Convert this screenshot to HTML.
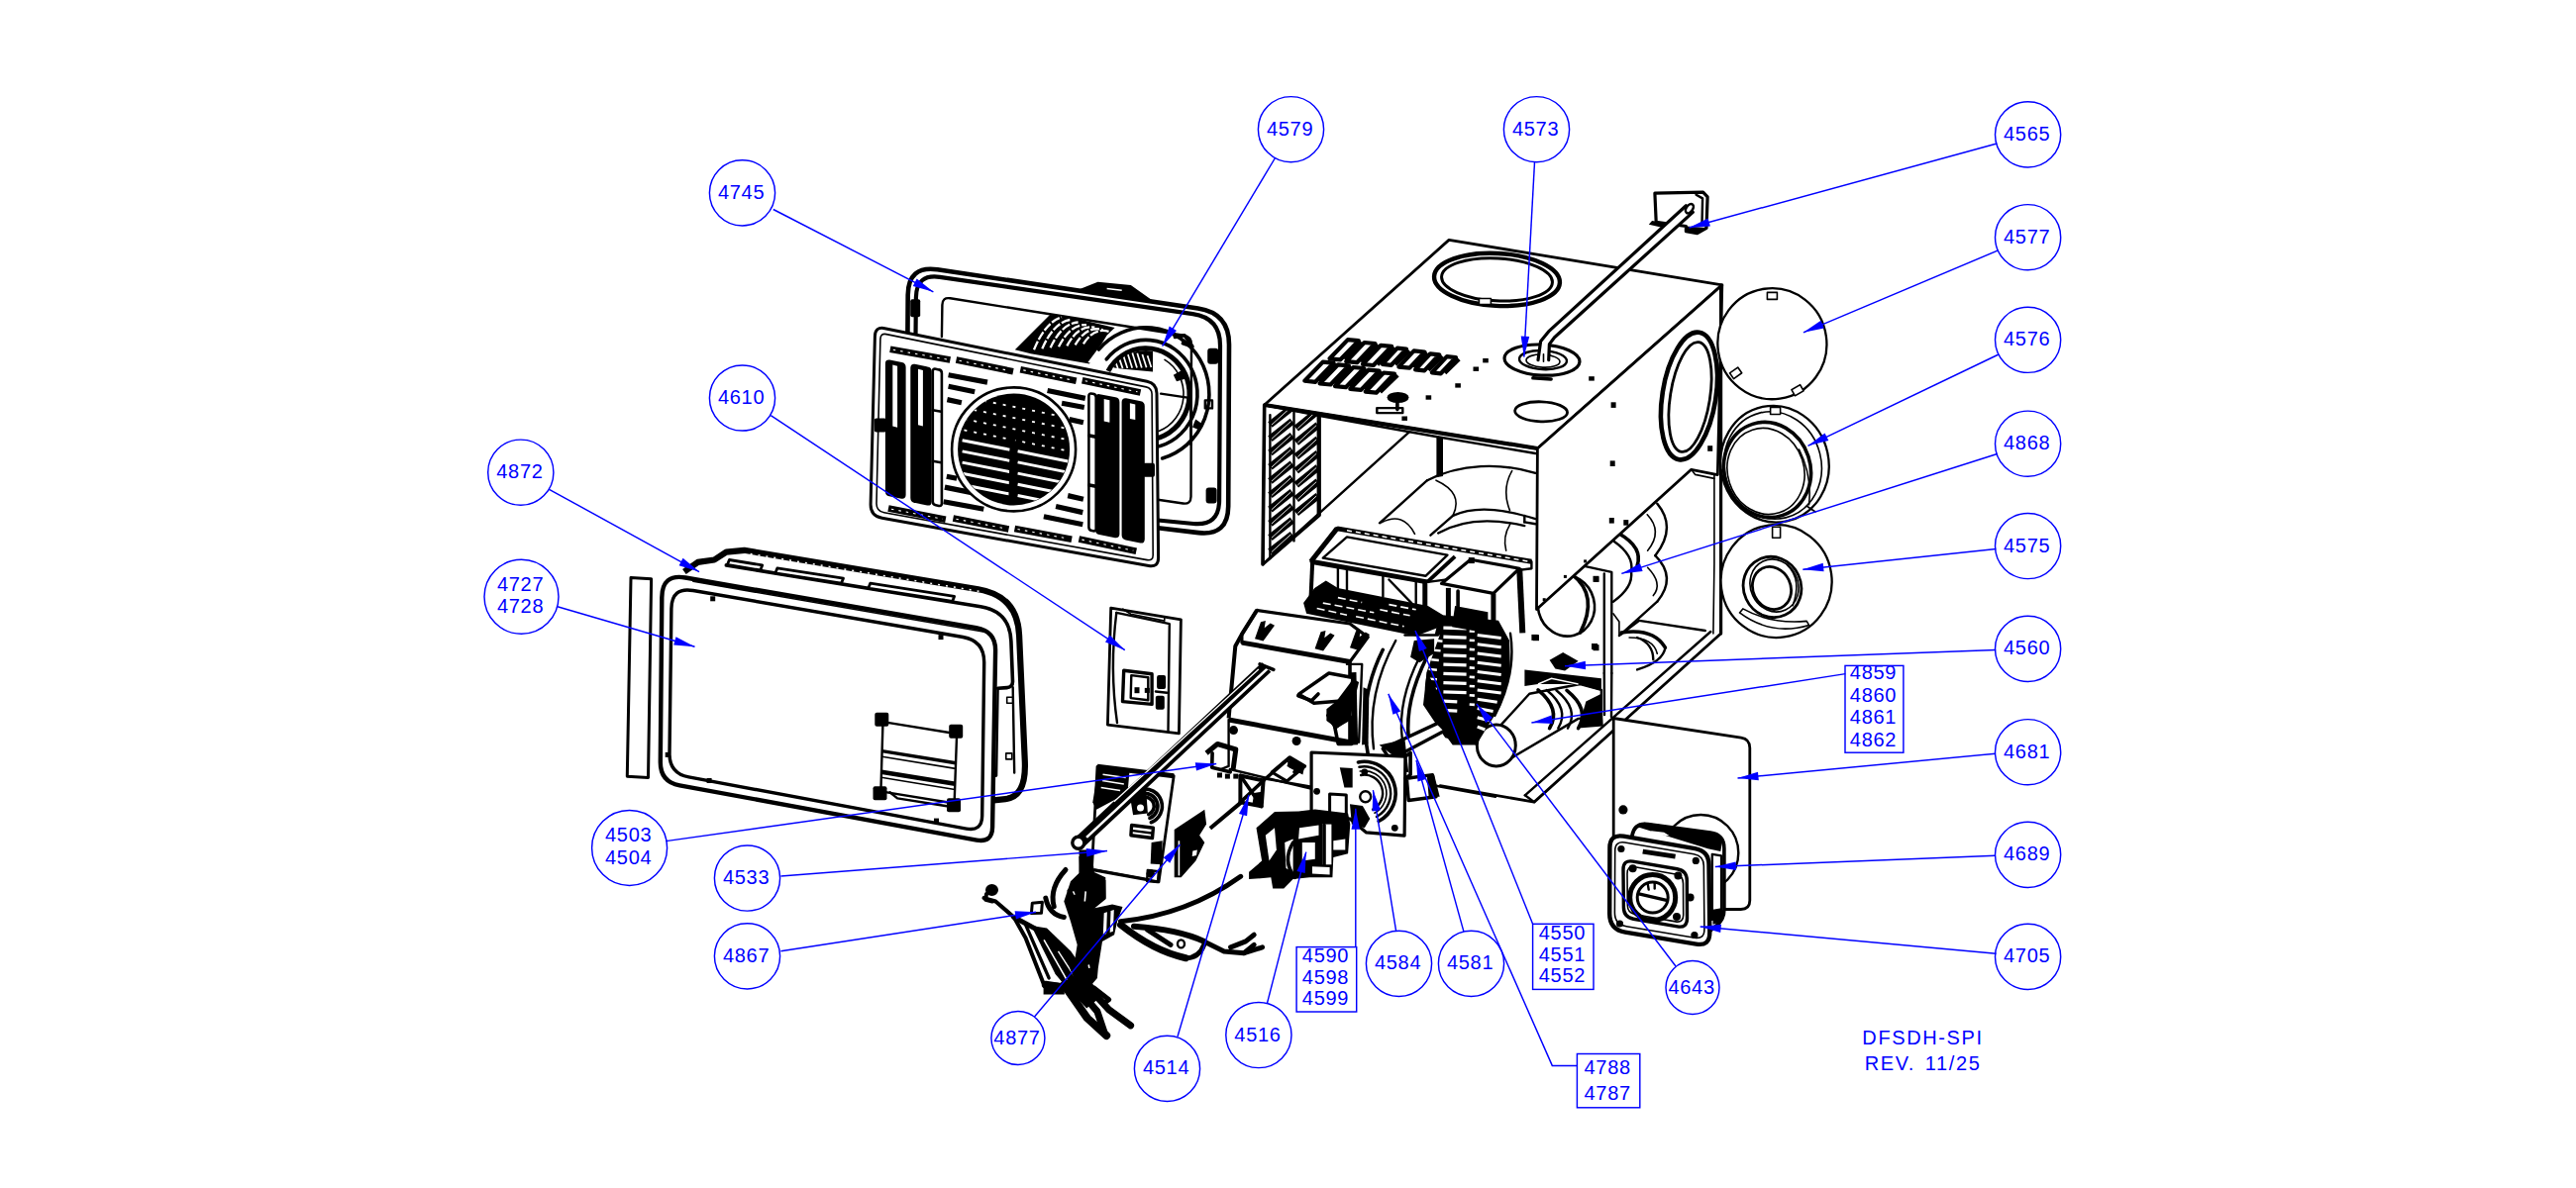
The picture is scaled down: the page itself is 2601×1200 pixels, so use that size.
<!DOCTYPE html><html><head><meta charset="utf-8"><title>DFSDH-SPI Parts Diagram</title>
<style>html,body{margin:0;padding:0;background:#fff}svg{display:block}.t{font-family:"Liberation Sans",Arial,sans-serif;font-size:20px;fill:#0000ff;letter-spacing:0.7px;text-anchor:middle}.k{fill:none;stroke:#000;stroke-width:2.4;stroke-linejoin:round;stroke-linecap:round}.k1{fill:none;stroke:#000;stroke-width:1.6;stroke-linejoin:round;stroke-linecap:round}.k3{fill:none;stroke:#000;stroke-width:3.6;stroke-linejoin:round;stroke-linecap:round}.kw{fill:#fff;stroke:#000;stroke-width:2.4;stroke-linejoin:round;stroke-linecap:round}.kw1{fill:#fff;stroke:#000;stroke-width:1.6;stroke-linejoin:round;stroke-linecap:round}.kf{fill:#000;stroke:none}.b{fill:none;stroke:#0000ff;stroke-width:1.45}</style></head><body>
<svg width="2601" height="1200" viewBox="0 0 2601 1200">
<rect width="2601" height="1200" fill="#fff"/>
<g id="drawing">
<path class="" d="M916.4,340.0 Q916.4,340.0 916.4,340.0 L916.7,297.9 Q917.0,267.9 946.6,272.3 L1209.6,311.6 Q1241.2,316.4 1241.0,348.4 L1240.2,511.5 Q1240.0,541.5 1210.2,538.1 L1169.1,533.3 Q1169.1,533.3 1169.1,533.3 " fill="none" stroke="#000" stroke-width="4.6"/>
<path class="" d="M924.5,340.0 Q924.5,340.0 924.5,340.0 L924.9,300.4 Q925.2,276.4 948.9,279.8 L1204.4,317.2 Q1232.1,321.2 1232.0,349.2 L1231.1,505.5 Q1230.9,531.5 1205.0,529.0 L1169.1,525.5 Q1169.1,525.5 1169.1,525.5 " fill="none" stroke="#000" stroke-width="4.2"/>
<path class="k" d="M950.9,340.0 Q950.9,340.0 950.9,340.0 L951.4,308.0 Q951.5,300.0 959.4,301.3 L1195.1,338.7 Q1203.0,340.0 1203.0,348.0 L1202.5,501.7 Q1202.4,509.7 1194.5,508.5 L1169.1,504.8 Q1169.1,504.8 1169.1,504.8 " />
<polygon class="kf" points="1090.3,292.1 1108.5,284.8 1141.8,287.9 1166.1,305.2 1132.7,299.1" />
<line class="" x1="1117.6" y1="291.5" x2="1132.7" y2="293.3" stroke="#fff" stroke-width="1.6"/>
<polygon class="kf" points="1024.8,353.2 1060.0,318.0 1076.0,319.3 1125.6,331.1 1117.6,338.8 1100.0,367.6 1040.8,357.2" />
<path class="" d="M1044.0,353.2 Q1055.6,325.2 1072.0,320.4" fill="none" stroke="#fff" stroke-width="2.3" stroke-dasharray="9 2"/>
<path class="" d="M1052.3,352.2 Q1063.9,325.8 1080.3,323.0" fill="none" stroke="#fff" stroke-width="2.3" stroke-dasharray="9 2"/>
<path class="" d="M1060.6,351.3 Q1072.2,326.5 1088.6,325.5" fill="none" stroke="#fff" stroke-width="2.3" stroke-dasharray="9 2"/>
<path class="" d="M1069.0,350.3 Q1080.6,327.1 1097.0,328.1" fill="none" stroke="#fff" stroke-width="2.3" stroke-dasharray="9 2"/>
<path class="" d="M1077.3,349.4 Q1088.9,327.8 1105.3,330.6" fill="none" stroke="#fff" stroke-width="2.3" stroke-dasharray="9 2"/>
<path class="" d="M1085.6,348.4 Q1097.2,328.4 1113.6,333.2" fill="none" stroke="#fff" stroke-width="2.3" stroke-dasharray="9 2"/>
<path class="" d="M1093.9,347.4 Q1105.5,329.0 1121.9,335.8" fill="none" stroke="#fff" stroke-width="2.3" stroke-dasharray="9 2"/>
<polygon class="" points="1098.4,366.0 1112.8,346.8 1116.0,350.0 1104.8,367.6" fill="#fff"/>
<path class="k3" d="M1109.4,353.0 A64.0,67.2 0 1 1 1173.6,462.9"/>
<path class="k3" d="M1117.2,362.9 A52.0,54.6 0 1 1 1166.0,451.8"/>
<path fill="none" stroke="#000" stroke-width="5" d="M1118.9,374.9 A44.0,46.2 0 1 1 1160.8,444.0"/>
<path class="k1" d="M1176.0,363.4 A38.0,39.9 0 0 1 1170.0,435.5"/>
<clipPath id="cc"><ellipse cx="1157.0" cy="398.0" rx="42" ry="44"/></clipPath><g clip-path="url(#cc)">
<polygon class="kf" points="1109.6,369.2 1122.4,353.2 1148.0,345.2 1164.0,353.2 1164.0,375.6 1132.0,372.4" />
<line class="" x1="1117.6" y1="356.4" x2="1124.0" y2="372.4" stroke="#fff" stroke-width="1.7"/>
<line class="" x1="1122.7" y1="355.7" x2="1128.8" y2="372.2" stroke="#fff" stroke-width="1.7"/>
<line class="" x1="1127.8" y1="355.4" x2="1133.6" y2="372.1" stroke="#fff" stroke-width="1.7"/>
<line class="" x1="1133.0" y1="355.3" x2="1138.4" y2="371.9" stroke="#fff" stroke-width="1.7"/>
<line class="" x1="1138.1" y1="355.5" x2="1143.2" y2="371.8" stroke="#fff" stroke-width="1.7"/>
<line class="" x1="1143.2" y1="356.0" x2="1148.0" y2="371.6" stroke="#fff" stroke-width="1.7"/>
<line class="" x1="1148.3" y1="356.8" x2="1152.8" y2="371.4" stroke="#fff" stroke-width="1.7"/>
<line class="" x1="1153.4" y1="357.9" x2="1157.6" y2="371.3" stroke="#fff" stroke-width="1.7"/>
<line class="" x1="1158.6" y1="359.2" x2="1162.4" y2="371.1" stroke="#fff" stroke-width="1.7"/>
</g>
<polyline class="k3" points="1186.4,340.4 1196.0,338.8 1204.0,350.0 1194.4,346.8" />
<polygon class="kf" points="1184.8,378.8 1196.0,372.4 1199.2,382.0 1188.0,385.2" />
<polygon class="k" points="1216.8,404.4 1224.0,404.4 1224.0,412.4 1216.8,412.4" />
<polygon class="kf" points="1207.2,423.6 1214.4,428.4 1212.0,434.8 1204.0,431.6" />
<rect class="kf" x="1219.2" y="351.7" width="11" height="16" rx="3"/>
<rect class="kf" x="1217.6" y="492.6" width="11" height="16" rx="3"/>
<rect class="kf" x="919.2" y="302.2" width="10" height="18" rx="2"/>
<line class="k" x1="1172.1" y1="397.6" x2="1202.4" y2="402.1" />
<line class="k" x1="1202.4" y1="402.1" x2="1202.4" y2="449.1" />
<path class="kw" d="M883.4,339.7 Q883.6,329.7 893.4,331.7 L1158.1,385.3 Q1167.9,387.3 1168.0,397.3 L1169.6,563.3 Q1169.7,573.3 1159.9,571.6 L890.6,523.3 Q878.8,521.2 879.1,509.2 Z"  style="stroke-width:3"/>
<path class="k1" d="M888.9,342.4 Q889.1,336.4 895.0,337.6 L1157.2,390.9 Q1163.0,392.1 1163.1,398.1 L1164.2,560.7 Q1164.2,566.7 1158.3,565.6 L892.7,517.8 Q884.8,516.4 885.0,508.4 Z" />
<rect class="kf" x="882.8" y="422.4" width="12" height="14" rx="2"/>
<rect class="kf" x="1154.0" y="467.8" width="12" height="14" rx="2"/>
<line class="" x1="898.8" y1="352.7" x2="959.4" y2="363.6" stroke="#000" stroke-width="6.6"/>
<line class="" x1="901.8" y1="353.3" x2="956.4" y2="363.0" stroke="#fff" stroke-width="1.1" stroke-dasharray="2.5 5"/>
<line class="" x1="965.5" y1="363.6" x2="1023.0" y2="375.2" stroke="#000" stroke-width="6.6"/>
<line class="" x1="968.5" y1="364.2" x2="1020.0" y2="374.6" stroke="#fff" stroke-width="1.1" stroke-dasharray="2.5 5"/>
<line class="" x1="1030.3" y1="373.3" x2="1086.7" y2="384.8" stroke="#000" stroke-width="6.6"/>
<line class="" x1="1033.3" y1="373.9" x2="1083.7" y2="384.2" stroke="#fff" stroke-width="1.1" stroke-dasharray="2.5 5"/>
<line class="" x1="1092.7" y1="384.2" x2="1151.5" y2="396.4" stroke="#000" stroke-width="6.6"/>
<line class="" x1="1095.7" y1="384.8" x2="1148.5" y2="395.8" stroke="#fff" stroke-width="1.1" stroke-dasharray="2.5 5"/>
<line class="" x1="897.0" y1="513.6" x2="954.8" y2="524.8" stroke="#000" stroke-width="6.6"/>
<line class="" x1="900.0" y1="514.2" x2="951.8" y2="524.2" stroke="#fff" stroke-width="1.1" stroke-dasharray="2.5 5"/>
<line class="" x1="962.4" y1="523.6" x2="1018.5" y2="534.5" stroke="#000" stroke-width="6.6"/>
<line class="" x1="965.4" y1="524.2" x2="1015.5" y2="533.9" stroke="#fff" stroke-width="1.1" stroke-dasharray="2.5 5"/>
<line class="" x1="1024.5" y1="533.9" x2="1082.1" y2="544.8" stroke="#000" stroke-width="6.6"/>
<line class="" x1="1027.5" y1="534.5" x2="1079.1" y2="544.2" stroke="#fff" stroke-width="1.1" stroke-dasharray="2.5 5"/>
<line class="" x1="1089.4" y1="544.5" x2="1147.3" y2="556.7" stroke="#000" stroke-width="6.6"/>
<line class="" x1="1092.4" y1="545.1" x2="1144.3" y2="556.1" stroke="#fff" stroke-width="1.1" stroke-dasharray="2.5 5"/>
<line class="" x1="957.6" y1="378.8" x2="997.0" y2="386.1" stroke="#000" stroke-width="5.2"/>
<line class="" x1="957.6" y1="390.3" x2="984.2" y2="395.8" stroke="#000" stroke-width="5.2"/>
<line class="" x1="956.4" y1="403.6" x2="970.9" y2="406.7" stroke="#000" stroke-width="5.2"/>
<line class="" x1="1057.6" y1="394.5" x2="1095.8" y2="402.4" stroke="#000" stroke-width="5.2"/>
<line class="" x1="1072.1" y1="407.3" x2="1094.8" y2="411.5" stroke="#000" stroke-width="5.2"/>
<line class="" x1="1079.7" y1="423.6" x2="1093.9" y2="426.7" stroke="#000" stroke-width="5.2"/>
<line class="" x1="955.8" y1="481.2" x2="966.1" y2="483.3" stroke="#000" stroke-width="5.2"/>
<line class="" x1="953.9" y1="492.1" x2="981.2" y2="497.6" stroke="#000" stroke-width="5.2"/>
<line class="" x1="952.7" y1="506.7" x2="993.3" y2="514.2" stroke="#000" stroke-width="5.2"/>
<line class="" x1="1078.2" y1="500.6" x2="1093.9" y2="504.2" stroke="#000" stroke-width="5.2"/>
<line class="" x1="1066.1" y1="511.5" x2="1093.3" y2="517.6" stroke="#000" stroke-width="5.2"/>
<line class="" x1="1053.9" y1="521.8" x2="1093.3" y2="529.7" stroke="#000" stroke-width="5.2"/>
<path class="" d="M895.2,367.2 Q895.2,364.2 898.1,364.8 L910.4,367.3 Q913.3,367.9 913.3,370.9 L913.3,500.0 Q913.3,503.0 910.4,502.4 L898.1,500.0 Q895.2,499.4 895.2,496.4 Z" fill="#000" stroke="#000" stroke-width="2.6"/>
<polygon class="" points="901.3,368.5 906.1,369.7 906.1,431.8 901.3,430.6" fill="#fff"/>
<path class="" d="M920.6,371.5 Q920.6,368.5 923.5,369.1 L936.5,371.7 Q939.4,372.2 939.4,375.2 L939.4,506.8 Q939.4,509.8 936.5,509.2 L923.5,506.6 Q920.6,506.1 920.6,503.1 Z" fill="#000" stroke="#000" stroke-width="2.6"/>
<polygon class="" points="927.0,372.7 931.9,373.9 931.9,430.4 927.0,429.2" fill="#fff"/>
<path class="" d="M941.8,375.1 Q941.8,372.1 944.8,372.7 L948.0,373.4 Q950.9,373.9 950.9,376.9 L950.9,508.5 Q950.9,511.5 948.0,510.9 L944.8,510.3 Q941.8,509.7 941.8,506.7 Z" fill="#fff" stroke="#000" stroke-width="2.6"/>
<path class="" d="M1099.4,400.0 Q1099.4,397.0 1102.3,397.6 L1103.7,397.8 Q1106.7,398.4 1106.7,401.4 L1106.7,533.9 Q1106.7,536.9 1103.7,536.3 L1102.3,536.0 Q1099.4,535.5 1099.4,532.5 Z" fill="#fff" stroke="#000" stroke-width="2.6"/>
<path class="" d="M1107.3,401.8 Q1107.3,398.8 1110.2,399.4 L1126.1,402.6 Q1129.1,403.2 1129.1,406.2 L1129.1,539.5 Q1129.1,542.5 1126.1,542.0 L1110.2,538.8 Q1107.3,538.2 1107.3,535.2 Z" fill="#000" stroke="#000" stroke-width="2.6"/>
<polygon class="" points="1114.7,403.0 1120.4,404.2 1120.4,426.7 1114.7,425.5" fill="#fff"/>
<path class="" d="M1133.9,406.0 Q1133.9,403.0 1136.9,403.6 L1151.6,406.6 Q1154.5,407.2 1154.5,410.2 L1154.5,544.8 Q1154.5,547.8 1151.6,547.2 L1136.9,544.2 Q1133.9,543.6 1133.9,540.6 Z" fill="#000" stroke="#000" stroke-width="2.6"/>
<polygon class="" points="1140.9,407.3 1146.3,408.5 1146.3,424.1 1140.9,422.9" fill="#fff"/>
<line class="k" x1="941.8" y1="414.2" x2="950.3" y2="415.8" />
<line class="k" x1="941.8" y1="465.8" x2="950.3" y2="467.3" />
<line class="k3" x1="1100.0" y1="440.0" x2="1107.9" y2="441.5" />
<line class="k3" x1="1100.0" y1="490.0" x2="1107.9" y2="491.5" />
<circle cx="1023.6" cy="453.9" r="62.5" class="kw" style="stroke-width:2.6"/>
<clipPath id="lc"><circle cx="1023.6" cy="453.9" r="56"/></clipPath>
<circle cx="1023.6" cy="453.9" r="56.5" fill="#000"/>
<g clip-path="url(#lc)">
<line class="" x1="963.6" y1="398.9" x2="1083.6" y2="422.9" stroke="#fff" stroke-width="1.8" stroke-dasharray="3 7"/>
<line class="" x1="963.6" y1="410.1" x2="1083.6" y2="434.1" stroke="#fff" stroke-width="1.8" stroke-dasharray="3 7"/>
<line class="" x1="963.6" y1="421.3" x2="1083.6" y2="445.3" stroke="#fff" stroke-width="1.8" stroke-dasharray="3 7"/>
<line class="" x1="963.6" y1="432.5" x2="1083.6" y2="456.5" stroke="#fff" stroke-width="1.8" stroke-dasharray="3 7"/>
<line class="" x1="971.6" y1="444.7" x2="1019.6" y2="454.2" stroke="#fff" stroke-width="3.0"/>
<line class="" x1="1027.6" y1="455.7" x2="1079.6" y2="466.2" stroke="#fff" stroke-width="3.0"/>
<line class="" x1="971.6" y1="455.9" x2="1019.6" y2="465.4" stroke="#fff" stroke-width="3.0"/>
<line class="" x1="1027.6" y1="466.9" x2="1079.6" y2="477.4" stroke="#fff" stroke-width="3.0"/>
<line class="" x1="971.6" y1="467.1" x2="1019.6" y2="476.6" stroke="#fff" stroke-width="3.0"/>
<line class="" x1="1027.6" y1="478.1" x2="1079.6" y2="488.6" stroke="#fff" stroke-width="3.0"/>
<line class="" x1="971.6" y1="478.3" x2="1019.6" y2="487.8" stroke="#fff" stroke-width="3.0"/>
<line class="" x1="1027.6" y1="489.3" x2="1079.6" y2="499.8" stroke="#fff" stroke-width="3.0"/>
<line class="" x1="971.6" y1="489.5" x2="1019.6" y2="499.0" stroke="#fff" stroke-width="3.0"/>
<line class="" x1="1027.6" y1="500.5" x2="1079.6" y2="511.0" stroke="#fff" stroke-width="3.0"/>
<line class="" x1="1022.6" y1="439.9" x2="1020.6" y2="511.9" stroke="#000" stroke-width="5"/>
</g>
<polygon class="k" points="637.0,583.6 657.6,584.8 654.5,785.5 633.3,784.2" style="stroke-width:3"/>
<path class="" d="M690.9,577.6 L704.5,567.9 L721.2,565.5 L733.3,557.6 L751.5,555.8 L751.5,555.8 Q751.5,555.8 751.5,555.8 L987.8,595.2 Q1027.3,601.8 1029.1,641.8 L1034.8,768.9 Q1036.4,804.8 1015.2,807.1 L993.9,809.4 Q993.9,809.4 993.9,809.4 " fill="none" stroke="#000" stroke-width="6.2" stroke-linejoin="round"/>
<path class="k3" d="M733.3,570.9 Q733.3,570.9 733.3,570.9 L990.1,612.8 Q1019.7,617.6 1020.9,647.6 L1022.5,688.2 Q1022.7,694.2 1016.7,694.6 L1007.6,695.2 Q1007.6,695.2 1007.6,695.2 " />
<polyline class="k" points="1007.6,695.2 1006.1,783.6 993.9,786.7" />
<polyline class="k" points="1022.7,694.2 1024.2,780.6" />
<line class="" x1="757.6" y1="559.4" x2="990.9" y2="597.6" stroke="#fff" stroke-width="1.5" stroke-dasharray="2 6"/>
<polygon class="kw" points="736.4,565.5 769.7,570.9 767.7,575.9 734.4,570.5" style="stroke-width:2.8"/>
<polygon class="kw" points="784.8,573.9 851.5,584.2 849.5,589.2 782.8,578.9" style="stroke-width:2.8"/>
<polygon class="kw" points="878.8,589.1 963.6,602.4 961.6,607.4 876.8,594.1" style="stroke-width:2.8"/>
<rect class="k1" x="1016.7" y="704.3" width="6" height="6"/>
<rect class="k1" x="1015.8" y="760.9" width="6" height="6"/>
<path class="kw" d="M668.3,603.4 Q668.5,579.4 692.1,583.5 L985.7,634.2 Q1005.5,637.6 1005.1,657.6 L1002.1,835.5 Q1001.8,851.5 986.1,848.6 L686.3,793.3 Q666.7,789.7 666.8,769.7 Z" style="stroke-width:4.4"/>
<path class="k" d="M677.9,614.7 Q678.2,592.7 699.9,596.5 L972.3,643.5 Q993.9,647.3 993.7,669.3 L991.7,824.0 Q991.5,840.0 975.8,837.1 L695.4,784.9 Q675.8,781.2 676.0,761.2 Z" style="stroke-width:3.4"/>
<line class="k1" x1="700.0" y1="587.3" x2="993.9" y2="638.2" />
<rect class="kf" x="717.2" y="602.3" width="5" height="5"/>
<rect class="kf" x="947.5" y="641.1" width="5" height="5"/>
<rect class="kf" x="713.6" y="786.0" width="5" height="5"/>
<rect class="kf" x="943.0" y="826.6" width="5" height="5"/>
<rect class="kf" x="671.7" y="759.9" width="5" height="5"/>
<polygon class="k" points="891.5,729.1 966.1,741.2 963.6,811.5 889.4,799.4" />
<rect class="kf" x="883.3" y="719.7" width="14" height="14" rx="2"/>
<rect class="kf" x="958.2" y="731.8" width="14" height="14" rx="2"/>
<rect class="kf" x="956.0" y="806.3" width="14" height="14" rx="2"/>
<rect class="kf" x="881.5" y="794.2" width="14" height="14" rx="2"/>
<line class="" x1="890.6" y1="758.6" x2="965.0" y2="770.7" stroke="#000" stroke-width="3.4"/>
<line class="" x1="890.5" y1="764.2" x2="964.8" y2="776.4" stroke="#000" stroke-width="1.6"/>
<line class="" x1="890.0" y1="779.7" x2="964.3" y2="791.8" stroke="#000" stroke-width="4.6"/>
<line class="" x1="889.8" y1="785.3" x2="964.1" y2="797.5" stroke="#000" stroke-width="1.6"/>
<polyline class="k" points="898.5,800.3 906.1,806.4 957.6,814.5" />
<line class="k" x1="1422.6" y1="436.7" x2="1275.2" y2="569.7" />
<polygon class="k" points="1276.7,409.0 1332.7,420.0 1332.7,520.6 1275.2,570.3" />
<polyline class="k3" points="1276.7,409.0 1275.0,570.0" />
<line class="" x1="1282.4" y1="429.0" x2="1304.8" y2="411.3" stroke="#000" stroke-width="7.2"/>
<line class="" x1="1283.9" y1="429.2" x2="1303.3" y2="411.5" stroke="#fff" stroke-width="0.9"/>
<line class="" x1="1282.4" y1="443.2" x2="1304.8" y2="425.5" stroke="#000" stroke-width="7.2"/>
<line class="" x1="1283.9" y1="443.4" x2="1303.3" y2="425.7" stroke="#fff" stroke-width="0.9"/>
<line class="" x1="1282.4" y1="457.5" x2="1304.8" y2="439.8" stroke="#000" stroke-width="7.2"/>
<line class="" x1="1283.9" y1="457.7" x2="1303.3" y2="440.0" stroke="#fff" stroke-width="0.9"/>
<line class="" x1="1282.4" y1="471.8" x2="1304.8" y2="454.1" stroke="#000" stroke-width="7.2"/>
<line class="" x1="1283.9" y1="472.0" x2="1303.3" y2="454.3" stroke="#fff" stroke-width="0.9"/>
<line class="" x1="1282.4" y1="486.0" x2="1304.8" y2="468.3" stroke="#000" stroke-width="7.2"/>
<line class="" x1="1283.9" y1="486.2" x2="1303.3" y2="468.5" stroke="#fff" stroke-width="0.9"/>
<line class="" x1="1282.4" y1="500.3" x2="1304.8" y2="482.6" stroke="#000" stroke-width="7.2"/>
<line class="" x1="1283.9" y1="500.5" x2="1303.3" y2="482.8" stroke="#fff" stroke-width="0.9"/>
<line class="" x1="1282.4" y1="514.6" x2="1304.8" y2="496.9" stroke="#000" stroke-width="7.2"/>
<line class="" x1="1283.9" y1="514.8" x2="1303.3" y2="497.1" stroke="#fff" stroke-width="0.9"/>
<line class="" x1="1282.4" y1="528.8" x2="1304.8" y2="511.2" stroke="#000" stroke-width="7.2"/>
<line class="" x1="1283.9" y1="529.0" x2="1303.3" y2="511.4" stroke="#fff" stroke-width="0.9"/>
<line class="" x1="1282.4" y1="543.1" x2="1304.8" y2="525.4" stroke="#000" stroke-width="7.2"/>
<line class="" x1="1283.9" y1="543.3" x2="1303.3" y2="525.6" stroke="#fff" stroke-width="0.9"/>
<line class="" x1="1282.4" y1="557.4" x2="1304.8" y2="539.7" stroke="#000" stroke-width="7.2"/>
<line class="" x1="1283.9" y1="557.6" x2="1303.3" y2="539.9" stroke="#fff" stroke-width="0.9"/>
<line class="" x1="1308.8" y1="432.7" x2="1330.8" y2="415.0" stroke="#000" stroke-width="7.2"/>
<line class="" x1="1310.3" y1="432.9" x2="1329.3" y2="415.2" stroke="#fff" stroke-width="0.9"/>
<line class="" x1="1308.8" y1="447.0" x2="1330.8" y2="429.3" stroke="#000" stroke-width="7.2"/>
<line class="" x1="1310.3" y1="447.2" x2="1329.3" y2="429.5" stroke="#fff" stroke-width="0.9"/>
<line class="" x1="1308.8" y1="461.3" x2="1330.8" y2="443.6" stroke="#000" stroke-width="7.2"/>
<line class="" x1="1310.3" y1="461.5" x2="1329.3" y2="443.8" stroke="#fff" stroke-width="0.9"/>
<line class="" x1="1308.8" y1="475.5" x2="1330.8" y2="457.9" stroke="#000" stroke-width="7.2"/>
<line class="" x1="1310.3" y1="475.7" x2="1329.3" y2="458.1" stroke="#fff" stroke-width="0.9"/>
<line class="" x1="1308.8" y1="489.8" x2="1330.8" y2="472.1" stroke="#000" stroke-width="7.2"/>
<line class="" x1="1310.3" y1="490.0" x2="1329.3" y2="472.3" stroke="#fff" stroke-width="0.9"/>
<line class="" x1="1308.8" y1="504.1" x2="1330.8" y2="486.4" stroke="#000" stroke-width="7.2"/>
<line class="" x1="1310.3" y1="504.3" x2="1329.3" y2="486.6" stroke="#fff" stroke-width="0.9"/>
<line class="" x1="1308.8" y1="518.3" x2="1330.8" y2="500.7" stroke="#000" stroke-width="7.2"/>
<line class="" x1="1310.3" y1="518.5" x2="1329.3" y2="500.9" stroke="#fff" stroke-width="0.9"/>
<line class="k" x1="1282.4" y1="419.1" x2="1282.4" y2="564.1" />
<line class="k" x1="1306.5" y1="414.3" x2="1306.5" y2="546.4" />
<line class="k" x1="1330.8" y1="419.1" x2="1330.8" y2="519.3" />
<polyline class="k" points="1332.7,420.0 1448.5,440.7 1550.4,458.0" />
<polygon class="kf" points="1450.4,440.4 1457.0,441.5 1457.0,481.1 1450.4,482.2" />
<path class="k" d="M1393.0,528.3 Q1417.0,507.0 1441.1,485.2" />
<path class="k" d="M1441.1,485.2 C1474.4,468.1 1515.2,467.2 1550.4,477.8" />
<path class="k1" d="M1450.0,485.2 Q1478.1,497.8 1467.0,520.9" />
<line class="k" x1="1467.0" y1="520.9" x2="1444.4" y2="540.7" />
<path class="k" d="M1467.0,520.9 C1493.0,508.9 1524.4,516.3 1550.4,524.1" />
<path class="k" d="M1452.2,538.5 C1478.1,523.7 1507.8,523.7 1539.3,531.1" />
<path class="k1" d="M1526.7,475.6 Q1516.1,494.1 1524.4,515.4" />
<path class="k1" d="M1524.8,529.3 Q1517.0,542.2 1520.7,556.1" />
<path class="k1" d="M1394.8,527.8 Q1417.0,516.3 1428.5,539.4" />
<line class="k" x1="1539.3" y1="520.9" x2="1539.3" y2="527.4" />
<line class="k" x1="1539.3" y1="527.4" x2="1550.4" y2="529.3" />
<polyline class="k" points="1737.5,640.0 1549.1,810.1 1454.2,793.6" style="stroke-width:2.8"/>
<polyline class="k" points="1727.3,638.0 1539.8,803.3" />
<polyline class="k" points="1539.8,803.3 1549.1,810.1" />
<polyline class="k" points="1655.2,626.9 1721.8,637.0" />
<polyline class="k" points="1655.2,626.9 1634.9,642.0" />
<ellipse class="kw" cx="1581.4" cy="611.7" rx="28.5" ry="31.0" transform="rotate(-15 1581.4 611.7)" style="stroke-width:2.6"/>
<path class="k3" d="M1587.5,580.4 Q1614.7,601.6 1595.6,639.0" />
<path class="k" d="M1673.3,508.7 Q1693.5,532.9 1671.3,561.2" />
<path class="k1" d="M1663.2,519.8 Q1679.4,537.0 1663.6,556.2" />
<path class="k" d="M1671.3,561.2 Q1693.5,583.4 1673.3,607.7" />
<path class="k1" d="M1663.6,573.3 Q1679.4,589.5 1669.3,601.6" />
<line class="k" x1="1673.3" y1="607.7" x2="1637.0" y2="640.4" />
<path class="k3" d="M1634.9,539.0 Q1659.2,553.1 1653.1,571.3" />
<path class="k" d="M1629.9,547.1 Q1650.1,561.2 1647.1,577.4" />
<path class="k" d="M1647.1,577.4 Q1649.1,593.5 1628.9,607.7" />
<path class="k3" d="M1637.0,639.0 Q1669.3,633.9 1681.4,654.1" />
<path class="k1" d="M1645.1,644.0 Q1669.3,644.0 1673.3,660.2" />
<path class="k" d="M1681.4,654.1 Q1679.4,668.3 1653.1,676.4" />
<path class="k" d="M1653.1,644.0 Q1669.3,650.1 1669.3,666.3" />
<polyline class="k" points="1598.6,571.7 1627.3,577.8 1627.3,680.0" />
<polyline class="k" points="1619.8,579.4 1619.8,680.0" />
<polyline class="k" points="1627.3,680.0 1627.0,724.0" />
<polyline class="k" points="1619.8,680.0 1620.0,722.0" />
<polyline class="k1" points="1628.9,619.8 1634.9,627.9 1634.9,642.0" />
<rect class="kf" x="1609.2" y="583.0" width="5" height="5"/>
<rect class="kf" x="1608.6" y="651.2" width="5" height="5"/>
<rect class="kf" x="1548.0" y="641.1" width="5" height="5"/>
<polygon class="kw" points="1463.0,242.4 1738.8,287.9 1552.4,453.0 1276.7,409.0" style="stroke-width:2.8"/>
<polygon class="kw" points="1738.8,287.9 1552.4,453.0 1551.5,615.5 1707.7,474.3 1734.3,479.6" style="stroke-width:2.8"/>
<polyline class="k1" points="1730.9,479.6 1730.9,569.3 1729.9,640.0" />
<polyline class="k" points="1737.6,288.0 1737.6,640.0" style="stroke-width:3.2"/>
<polyline class="k1" points="1707.7,474.3 1711.7,479.4 1730.9,483.4" />
<line class="" x1="1276.7" y1="409.0" x2="1552.4" y2="453.0" stroke="#000" stroke-width="4.2"/>
<ellipse class="k" cx="1705.5" cy="400.0" rx="27.0" ry="65.0" transform="rotate(9 1705.5 400.0)" style="stroke-width:4.6"/>
<ellipse class="k" cx="1706.5" cy="401.0" rx="20.0" ry="56.0" transform="rotate(9 1706.5 401.0)" style="stroke-width:2.8"/>
<rect class="kf" x="1626.6" y="406.3" width="5" height="5.6"/>
<rect class="kf" x="1625.7" y="465.4" width="5" height="5.6"/>
<rect class="kf" x="1624.8" y="523.0" width="5" height="5.6"/>
<rect class="kf" x="1639.3" y="525.1" width="5" height="5.6"/>
<rect class="kf" x="1724.2" y="450.2" width="5" height="5.6"/>
<rect class="kf" x="1599.1" y="565.4" width="3" height="3"/>
<rect class="kf" x="1578.9" y="580.9" width="3" height="3"/>
<rect class="kf" x="1557.7" y="604.2" width="3" height="3"/>
<ellipse class="k" cx="1511.5" cy="282.4" rx="63.5" ry="26.5" transform="rotate(3 1511.5 282.4)" style="stroke-width:4.4"/>
<ellipse class="k" cx="1511.5" cy="282.4" rx="56.0" ry="21.5" transform="rotate(3 1511.5 282.4)" style="stroke-width:3"/>
<rect class="kw1" x="1493.4" y="301.5" width="12" height="6"/>
<ellipse class="k" cx="1556.1" cy="415.8" rx="26.5" ry="10.0" transform="rotate(2 1556.1 415.8)" style="stroke-width:2.8"/>
<ellipse class="k" cx="1557.0" cy="363.6" rx="38.0" ry="15.5" transform="rotate(3 1557.0 363.6)" style="stroke-width:3.2"/>
<ellipse class="k" cx="1558.0" cy="363.6" rx="24.0" ry="9.5" transform="rotate(3 1558.0 363.6)" />
<ellipse class="k1" cx="1558.0" cy="364.6" rx="17.0" ry="6.5" transform="rotate(3 1558.0 364.6)" />
<polyline class="k3" points="1547.9,381.8 1566.1,383.0" />
<polygon class="kw" points="1360.9,343.1 1371.8,344.1 1353.4,363.3 1342.5,362.3" style="stroke-width:4.2"/>
<line class="" x1="1374.6" y1="345.4" x2="1357.1" y2="362.3" stroke="#000" stroke-width="5.2"/>
<polygon class="kw" points="1377.6,346.0 1388.5,347.0 1370.1,366.2 1359.2,365.2" style="stroke-width:4.2"/>
<line class="" x1="1391.3" y1="348.2" x2="1373.7" y2="365.2" stroke="#000" stroke-width="5.2"/>
<polygon class="kw" points="1394.2,348.8 1405.2,349.8 1386.8,369.0 1375.9,368.0" style="stroke-width:4.2"/>
<line class="" x1="1408.0" y1="351.0" x2="1390.4" y2="368.0" stroke="#000" stroke-width="5.2"/>
<polygon class="kw" points="1410.9,351.6 1420.0,352.6 1404.8,368.8 1395.8,367.8" style="stroke-width:4.2"/>
<line class="" x1="1422.8" y1="353.8" x2="1408.5" y2="367.8" stroke="#000" stroke-width="5.2"/>
<polygon class="kw" points="1427.6,354.4 1438.5,355.5 1423.3,371.6 1412.4,370.6" style="stroke-width:4.2"/>
<line class="" x1="1441.3" y1="356.7" x2="1427.0" y2="370.6" stroke="#000" stroke-width="5.2"/>
<polygon class="kw" points="1444.2,357.3 1453.3,358.3 1438.2,374.4 1429.1,373.4" style="stroke-width:4.2"/>
<line class="" x1="1456.2" y1="359.5" x2="1441.8" y2="373.4" stroke="#000" stroke-width="5.2"/>
<polygon class="kw" points="1460.9,360.1 1470.0,361.1 1454.8,377.3 1445.8,376.3" style="stroke-width:4.2"/>
<line class="" x1="1472.8" y1="362.3" x2="1458.5" y2="376.3" stroke="#000" stroke-width="5.2"/>
<polygon class="kw" points="1335.7,365.6 1346.6,366.6 1328.2,385.8 1317.3,384.7" style="stroke-width:4.2"/>
<line class="" x1="1349.4" y1="367.8" x2="1331.8" y2="384.7" stroke="#000" stroke-width="5.2"/>
<polygon class="kw" points="1351.0,368.3 1361.9,369.3 1343.5,388.5 1332.6,387.5" style="stroke-width:4.2"/>
<line class="" x1="1364.7" y1="370.5" x2="1347.2" y2="387.5" stroke="#000" stroke-width="5.2"/>
<polygon class="kw" points="1366.4,371.0 1377.3,372.0 1358.9,391.2 1348.0,390.2" style="stroke-width:4.2"/>
<line class="" x1="1380.1" y1="373.2" x2="1362.5" y2="390.2" stroke="#000" stroke-width="5.2"/>
<polygon class="kw" points="1381.7,373.7 1392.6,374.7 1374.2,393.9 1363.3,392.9" style="stroke-width:4.2"/>
<line class="" x1="1395.5" y1="376.0" x2="1377.9" y2="392.9" stroke="#000" stroke-width="5.2"/>
<polygon class="kw" points="1397.1,376.5 1408.0,377.5 1389.6,396.7 1378.7,395.7" style="stroke-width:4.2"/>
<line class="" x1="1410.8" y1="378.7" x2="1393.2" y2="395.7" stroke="#000" stroke-width="5.2"/>
<ellipse class="kf" cx="1411.5" cy="401.5" rx="11.0" ry="5.5" />
<rect class="k" x="1390.3" y="412.1" width="26" height="5"/>
<line class="k3" x1="1410.9" y1="406.1" x2="1410.9" y2="413.6" />
<rect class="kf" x="1497.2" y="362.0" width="5.6" height="4.4"/>
<rect class="kf" x="1487.5" y="370.5" width="5.6" height="4.4"/>
<rect class="kf" x="1469.3" y="387.2" width="5.6" height="4.4"/>
<rect class="kf" x="1439.6" y="399.3" width="5.6" height="4.4"/>
<rect class="kf" x="1415.4" y="420.5" width="5.6" height="4.4"/>
<rect class="kf" x="1604.2" y="380.2" width="5.6" height="4.4"/>
<polygon class="kw" points="1670.9,195.2 1719.6,194.1 1724.1,198.9 1723.0,230.4 1713.7,235.6 1702.4,233.7 1702.4,228.5 1672.2,224.4" style="stroke-width:3.2"/>
<polygon class="kf" points="1664.8,226.7 1668.1,223.0 1687.6,226.3 1685.7,231.5" />
<polygon class="kf" points="1702.4,228.5 1721.9,230.0 1713.7,235.9 1702.4,234.1" />
<polyline class="k" points="1712.6,196.7 1719.1,200.4 1718.5,226.3" />
<polyline class="kw" points="1553.0,363.7 1555.6,344.8 1564.4,334.1 1702.4,207.8 1709.3,214.4 1569.6,340.7 1564.4,347.6 1563.7,363.7" style="stroke-width:3.2"/>
<ellipse class="kw" cx="1705.9" cy="210.7" rx="3.2" ry="5.2" transform="rotate(35 1705.9 210.7)" style="stroke-width:2.6"/>
<line class="k1" x1="1558.5" y1="357.8" x2="1558.5" y2="365.2" />
<polygon class="kw" points="1514.3,733.6 1544.3,700.7 1595.6,691.0 1616.9,696.8 1616.9,723.9 1593.6,725.9 1527.8,764.6" />
<ellipse class="kw" cx="1510.8" cy="753.0" rx="19.5" ry="21.0" style="stroke-width:3"/>
<path class="k3" d="M1553.0,696.8 Q1576.4,716.2 1564.6,735.6" />
<path class="k" d="M1561.7,697.0 Q1585.1,716.2 1573.3,735.6" />
<path class="k" d="M1571.4,697.2 Q1594.8,716.2 1583.0,735.6" />
<path class="k3" d="M1582.0,697.4 Q1605.5,716.2 1593.6,735.6" />
<polygon class="kf" points="1539.4,676.5 1616.9,685.2 1616.9,697.8 1593.6,691.0 1553.0,691.0 1539.4,693.0" />
<polyline class="" points="1553.0,691.0 1566.5,685.2 1593.6,691.0" fill="none" stroke="#fff" stroke-width="1.5"/>
<polygon class="kf" points="1564.6,666.8 1578.2,659.1 1593.6,667.8 1580.1,677.5 1570.4,675.5" />
<polygon class="kf" points="1601.4,708.4 1616.9,700.7 1618.8,733.6 1593.6,735.6" />
<rect class="kf" x="1548.0" y="641.2" width="6" height="6"/>
<rect class="kf" x="1608.5" y="651.2" width="6" height="6"/>
<polygon class="kf" points="1453.7,621.1 1513.0,626.7 1524.1,647.0 1525.0,680.4 1514.8,713.7 1501.9,734.1 1490.7,752.6 1466.7,752.6 1448.1,726.7 1437.0,689.6 1448.1,643.3" />
<line class="" x1="1457.4" y1="634.1" x2="1480.6" y2="634.8" stroke="#fff" stroke-width="3.4"/>
<line class="" x1="1491.7" y1="641.5" x2="1515.7" y2="644.4" stroke="#fff" stroke-width="3.0"/>
<line class="" x1="1483.7" y1="637.4" x2="1488.9" y2="637.8" stroke="#fff" stroke-width="2.6"/>
<line class="" x1="1457.4" y1="643.3" x2="1480.6" y2="644.1" stroke="#fff" stroke-width="3.4"/>
<line class="" x1="1491.7" y1="650.7" x2="1515.7" y2="653.7" stroke="#fff" stroke-width="3.0"/>
<line class="" x1="1483.7" y1="646.7" x2="1488.9" y2="647.0" stroke="#fff" stroke-width="2.6"/>
<line class="" x1="1457.4" y1="652.6" x2="1480.6" y2="653.3" stroke="#fff" stroke-width="3.4"/>
<line class="" x1="1491.7" y1="660.0" x2="1515.7" y2="663.0" stroke="#fff" stroke-width="3.0"/>
<line class="" x1="1483.7" y1="655.9" x2="1488.9" y2="656.3" stroke="#fff" stroke-width="2.6"/>
<line class="" x1="1457.4" y1="661.9" x2="1480.6" y2="662.6" stroke="#fff" stroke-width="3.4"/>
<line class="" x1="1491.7" y1="669.3" x2="1515.7" y2="672.2" stroke="#fff" stroke-width="3.0"/>
<line class="" x1="1483.7" y1="665.2" x2="1488.9" y2="665.6" stroke="#fff" stroke-width="2.6"/>
<line class="" x1="1457.4" y1="671.1" x2="1480.6" y2="671.9" stroke="#fff" stroke-width="3.4"/>
<line class="" x1="1491.7" y1="678.5" x2="1515.7" y2="681.5" stroke="#fff" stroke-width="3.0"/>
<line class="" x1="1483.7" y1="674.4" x2="1488.9" y2="674.8" stroke="#fff" stroke-width="2.6"/>
<line class="" x1="1457.4" y1="680.4" x2="1480.6" y2="681.1" stroke="#fff" stroke-width="3.4"/>
<line class="" x1="1491.7" y1="687.8" x2="1515.7" y2="690.7" stroke="#fff" stroke-width="3.0"/>
<line class="" x1="1483.7" y1="683.7" x2="1488.9" y2="684.1" stroke="#fff" stroke-width="2.6"/>
<line class="" x1="1457.4" y1="689.6" x2="1480.6" y2="690.4" stroke="#fff" stroke-width="3.4"/>
<line class="" x1="1491.7" y1="697.0" x2="1515.7" y2="700.0" stroke="#fff" stroke-width="3.0"/>
<line class="" x1="1483.7" y1="693.0" x2="1488.9" y2="693.3" stroke="#fff" stroke-width="2.6"/>
<line class="" x1="1457.4" y1="698.9" x2="1480.6" y2="699.6" stroke="#fff" stroke-width="3.4"/>
<line class="" x1="1491.7" y1="706.3" x2="1511.7" y2="709.3" stroke="#fff" stroke-width="3.0"/>
<line class="" x1="1483.7" y1="702.2" x2="1488.9" y2="702.6" stroke="#fff" stroke-width="2.6"/>
<line class="" x1="1457.4" y1="708.1" x2="1471.3" y2="708.9" stroke="#fff" stroke-width="3.4"/>
<line class="" x1="1491.7" y1="715.6" x2="1507.6" y2="718.5" stroke="#fff" stroke-width="3.0"/>
<line class="" x1="1483.7" y1="711.5" x2="1488.9" y2="711.9" stroke="#fff" stroke-width="2.6"/>
<line class="" x1="1457.4" y1="717.4" x2="1471.3" y2="718.1" stroke="#fff" stroke-width="3.4"/>
<line class="" x1="1491.7" y1="724.8" x2="1503.5" y2="727.8" stroke="#fff" stroke-width="3.0"/>
<line class="" x1="1491.7" y1="734.1" x2="1499.4" y2="737.0" stroke="#fff" stroke-width="3.0"/>
<line class="" x1="1450.4" y1="647.0" x2="1456.5" y2="647.8" stroke="#fff" stroke-width="2.4"/>
<line class="" x1="1447.8" y1="656.7" x2="1454.6" y2="657.4" stroke="#fff" stroke-width="2.4"/>
<line class="" x1="1445.2" y1="666.3" x2="1452.8" y2="667.0" stroke="#fff" stroke-width="2.4"/>
<line class="" x1="1442.6" y1="675.9" x2="1450.9" y2="676.7" stroke="#fff" stroke-width="2.4"/>
<line class="" x1="1442.6" y1="685.6" x2="1450.9" y2="686.3" stroke="#fff" stroke-width="2.4"/>
<line class="" x1="1442.6" y1="695.2" x2="1450.9" y2="695.9" stroke="#fff" stroke-width="2.4"/>
<line class="" x1="1442.6" y1="704.8" x2="1450.9" y2="705.6" stroke="#fff" stroke-width="2.4"/>
<line class="" x1="1442.6" y1="714.4" x2="1450.9" y2="715.2" stroke="#fff" stroke-width="2.4"/>
<line class="" x1="1442.6" y1="724.1" x2="1450.9" y2="724.8" stroke="#fff" stroke-width="2.4"/>
<path class="k" d="M1525.0,639.6 Q1531.5,680.4 1509.3,723.0" />
<polygon class="" points="1403.7,647.0 1429.6,637.8 1453.7,641.5 1440.7,678.5 1437.0,708.1 1448.1,730.4 1418.5,752.6 1418.5,780.0 1374.1,780.0 1370.4,726.7 1379.6,680.4" fill="#fff"/>
<path class="k3" d="M1396.3,656.3 Q1370.4,708.1 1381.5,763.7" />
<path class="k" d="M1409.3,647.0 Q1379.6,700.7 1387.0,756.3" />
<path class="k3" d="M1440.7,663.7 Q1418.5,708.1 1422.2,745.2" />
<path class="k" d="M1433.3,663.7 Q1411.1,708.1 1415.7,745.2" />
<polygon class="kf" points="1427.8,647.0 1448.1,645.2 1448.1,660.0 1433.3,669.3 1424.1,663.7" />
<polygon class="kf" points="1440.7,678.5 1466.7,726.7 1490.7,752.6 1459.3,745.2 1437.0,711.9" />
<polygon class="kw" points="1396.3,756.3 1451.9,730.4 1459.3,737.8 1403.7,767.4" style="stroke-width:3.4"/>
<polygon class="kf" points="1392.6,752.6 1418.5,747.0 1422.2,780.0 1411.1,780.0 1407.4,763.7" />
<polyline class="k" points="1418.5,641.5 1451.9,641.5" />
<polygon class="kw" points="1349.4,533.3 1546.4,567.3 1546.4,574.2 1441.8,587.9 1323.6,567.3" />
<line class="" x1="1350.0" y1="533.9" x2="1546.4" y2="567.3" fill="none" stroke="#000" stroke-width="5" stroke-linejoin="round"/>
<line class="" x1="1360.0" y1="535.8" x2="1544.8" y2="567.3" stroke="#fff" stroke-width="1.5" stroke-dasharray="5 4"/>
<polyline class="" points="1350.0,533.9 1323.6,567.3" fill="none" stroke="#000" stroke-width="5" stroke-linejoin="round"/>
<polyline class="" points="1323.6,567.3 1441.2,587.9" fill="none" stroke="#000" stroke-width="5" stroke-linejoin="round"/>
<polygon class="k" points="1360.0,542.4 1461.5,560.6 1439.4,581.8 1335.8,563.6" />
<polyline class="" points="1441.2,587.9 1469.1,562.1" fill="none" stroke="#000" stroke-width="4" stroke-linejoin="round"/>
<polyline class="" points="1325.2,567.3 1323.6,602.4" fill="none" stroke="#000" stroke-width="4" stroke-linejoin="round"/>
<polyline class="" points="1438.8,587.9 1438.8,619.7" fill="none" stroke="#000" stroke-width="5" stroke-linejoin="round"/>
<line class="k" x1="1350.9" y1="572.7" x2="1350.9" y2="595.5" />
<line class="k" x1="1360.0" y1="574.2" x2="1360.0" y2="597.0" />
<line class="k" x1="1396.4" y1="581.8" x2="1396.4" y2="602.4" />
<line class="k" x1="1429.7" y1="586.4" x2="1429.7" y2="612.1" />
<line class="k" x1="1402.4" y1="585.5" x2="1425.2" y2="609.1" />
<polygon class="kf" points="1327.3,593.9 1338.8,586.4 1350.9,593.9 1441.8,612.1 1457.0,621.2 1453.9,633.3 1429.7,642.4 1319.1,619.7 1316.1,609.1" />
<line class="" x1="1335.8" y1="609.1" x2="1387.3" y2="618.8" stroke="#fff" stroke-width="1.6" stroke-dasharray="8 4"/>
<line class="" x1="1350.9" y1="603.6" x2="1375.2" y2="608.5" stroke="#fff" stroke-width="1.6" stroke-dasharray="8 4"/>
<line class="" x1="1393.3" y1="615.8" x2="1423.6" y2="621.8" stroke="#fff" stroke-width="1.6" stroke-dasharray="8 4"/>
<line class="" x1="1329.7" y1="614.5" x2="1360.0" y2="621.2" stroke="#fff" stroke-width="1.6" stroke-dasharray="8 4"/>
<line class="" x1="1369.1" y1="622.7" x2="1417.6" y2="632.7" stroke="#fff" stroke-width="1.6" stroke-dasharray="8 4"/>
<line class="" x1="1402.4" y1="610.6" x2="1429.7" y2="615.8" stroke="#fff" stroke-width="1.6" stroke-dasharray="8 4"/>
<polygon class="kw" points="1455.5,589.4 1484.8,565.2 1534.2,574.2 1507.9,599.4" style="stroke-width:3.2"/>
<polyline class="" points="1534.2,574.2 1537.3,639.4" fill="none" stroke="#000" stroke-width="6"/>
<polyline class="" points="1507.9,599.4 1507.9,630.3" fill="none" stroke="#000" stroke-width="5" stroke-linejoin="round"/>
<polyline class="" points="1462.4,593.9 1462.4,630.3" fill="none" stroke="#000" stroke-width="5" stroke-linejoin="round"/>
<polyline class="k3" points="1472.1,597.0 1472.1,618.2" />
<polygon class="kf" points="1469.1,612.1 1502.4,618.2 1502.4,639.4 1466.1,633.3" />
<polygon class="" points="1484.2,600.0 1502.4,602.4 1502.4,616.7 1484.2,613.6" fill="#fff"/>
<rect class="kf" x="1482.8" y="563.1" width="6" height="6"/>
<rect class="kf" x="1546.4" y="640.9" width="6" height="6"/>
<rect class="kf" x="1608.5" y="581.8" width="6" height="6"/>
<rect class="kf" x="1607.0" y="650.0" width="6" height="6"/>
<polygon class="kw" points="1269.1,616.4 1363.0,630.0 1381.2,643.6 1363.0,668.5 1253.9,649.1 1253.9,640.6" style="stroke-width:3.2"/>
<polyline class="" points="1269.1,616.4 1253.9,640.6 1247.3,652.7 1240.6,725.5" fill="none" stroke="#000" stroke-width="4" stroke-linejoin="round"/>
<polyline class="" points="1253.9,649.1 1363.0,668.5" fill="none" stroke="#000" stroke-width="5" stroke-linejoin="round"/>
<polyline class="" points="1240.6,727.0 1363.0,749.7" fill="none" stroke="#000" stroke-width="5" stroke-linejoin="round"/>
<polyline class="k3" points="1363.0,668.5 1363.0,749.7" />
<circle class="kf" cx="1245.5" cy="737.6" r="4.5"/>
<circle class="kf" cx="1309.1" cy="748.5" r="4.5"/>
<polygon class="kf" points="1267.0,645.2 1273.0,628.2 1277.9,627.0 1276.7,634.2 1282.7,629.4 1287.0,631.8 1275.5,647.6" />
<polygon class="kf" points="1327.6,655.2 1333.6,638.2 1338.5,637.0 1337.3,644.2 1343.3,639.4 1347.6,641.8 1336.1,657.6" />
<polygon class="kf" points="1363.0,654.2 1369.1,637.3 1373.9,636.1 1372.7,643.3 1378.8,638.5 1383.0,640.9 1371.5,656.7" />
<polygon class="kw" points="1311.5,701.2 1341.8,680.0 1366.1,684.5 1363.0,707.3 1326.7,710.3" style="stroke-width:3.4"/>
<polygon class="kf" points="1338.8,722.4 1366.1,686.1 1372.1,689.1 1363.0,725.5 1347.9,737.6" />
<polyline class="k" points="1360.0,670.9 1375.2,670.9 1372.1,749.7" />
<polyline class="" points="1366.7,679.1 1368.4,752.4" fill="none" stroke="#000" stroke-width="5.5"/>
<polygon class="kf" points="1376.5,694.3 1382.4,696.8 1381.5,751.5 1375.1,752.4" />
<polygon class="kf" points="1339.4,716.2 1347.8,709.4 1357.9,714.5 1356.3,727.9 1346.2,733.0 1339.4,727.9" />
<polyline class="k3" points="1310.8,702.7 1324.3,707.7 1331.0,701.0" />
<polygon class="k3" points="1347.8,734.7 1364.7,724.6 1364.7,751.5 1351.2,751.5" />
<polyline class="k" points="1240.6,727.0 1240.6,773.9 1232.7,777.0" />
<polyline class="k" points="1241.8,777.0 1323.6,796.7" />
<polygon class="kw" points="1284.2,780.0 1302.4,764.8 1317.6,773.9 1299.4,789.1" style="stroke-width:3.2"/>
<polygon class="kf" points="1302.4,765.5 1317.6,773.9 1314.5,781.5 1299.4,773.9" />
<polyline class="" points="1218.1,760.7 1229.3,751.5 1247.8,757.0 1245.0,778.0" fill="none" stroke="#000" stroke-width="5" stroke-linejoin="round"/>
<polyline class="k3" points="1224.1,760.7 1223.7,775.2 1242.2,779.8" />
<rect class="kf" x="1229.0" y="780.5" width="5" height="5"/>
<rect class="kf" x="1236.9" y="781.6" width="5" height="5"/>
<rect class="kf" x="1245.3" y="781.6" width="5" height="5"/>
<polygon class="kw" points="1252.4,783.5 1275.6,788.5 1273.7,814.4 1252.4,810.4" style="stroke-width:4"/>
<line class="k3" x1="1252.4" y1="783.5" x2="1273.7" y2="814.4" />
<line class="k3" x1="1275.6" y1="788.5" x2="1252.4" y2="810.4" />
<polygon class="kf" points="1266.3,801.1 1275.6,799.3 1273.7,814.4 1264.4,813.1" />
<polyline class="" points="1221.9,836.7 1253.3,810.4" fill="none" stroke="#000" stroke-width="4" stroke-linejoin="round"/>
<polyline class="k3" points="1275.6,788.5 1301.5,765.9 1316.3,774.3 1307.0,779.8" />
<polygon class="kf" points="1299.6,767.8 1317.2,774.3 1315.4,782.6 1301.5,775.2" />
<polyline class="k" points="1275.6,786.3 1330.0,795.6" />
<polygon class="kw" points="1324.1,760.0 1418.9,764.1 1418.1,844.1 1379.6,840.9 1363.0,827.0 1324.1,823.3" style="stroke-width:3.2"/>
<path class="k" d="M1374.1,783.0 A18.5,18.5 0 0 1 1386.1,817.6"/>
<path class="k1" d="M1373.3,779.0 A22.6,22.6 0 0 1 1387.9,821.2"/>
<path class="k" d="M1372.4,774.8 A26.9,26.9 0 0 1 1389.9,825.0"/>
<path class="k3" d="M1371.4,769.9 A31.9,31.9 0 0 1 1392.1,829.5"/>
<ellipse class="k" cx="1378.7" cy="804.8" rx="5.5" ry="5.5" />
<polygon class="k" points="1342.6,802.0 1359.3,803.0 1359.3,827.0 1342.6,825.2" style="stroke-width:3"/>
<polygon class="kf" points="1352.8,775.2 1365.7,776.1 1365.7,795.6 1357.4,795.6" />
<polygon class="kf" points="1363.0,812.2 1375.9,814.1 1383.3,827.0 1377.8,836.3 1364.8,832.6" />
<circle class="kf" cx="1329.6" cy="799.3" r="3.4"/>
<circle class="kf" cx="1408.3" cy="836.3" r="3.4"/>
<circle class="kf" cx="1377.8" cy="779.8" r="3.4"/>
<polyline class="k3" points="1418.9,764.1 1424.1,760.4 1424.1,782.6 1418.9,786.3" />
<polygon class="kw" points="1420.4,786.3 1446.3,782.6 1450.0,804.8 1422.2,808.5" style="stroke-width:3.4"/>
<polygon class="kf" points="1440.7,782.6 1448.1,782.6 1453.7,804.8 1442.6,804.8" />
<polyline class="k" points="1450.0,793.7 1510.0,804.8" />
<polygon class="kf" points="1268.5,836.3 1287.0,820.0 1311.1,819.6 1327.8,817.4 1361.1,821.5 1363.3,832.6 1361.1,862.2 1346.3,865.9 1345.4,886.3 1322.2,886.3 1305.6,888.1 1296.3,897.4 1285.2,897.4 1283.3,886.3 1261.1,888.1 1261.1,880.7 1274.1,869.6" />
<polygon class="" points="1312.0,836.3 1331.5,833.5 1331.5,843.7 1311.1,847.4" fill="#fff"/>
<polygon class="" points="1314.8,851.1 1327.8,851.1 1327.8,867.8 1314.8,869.6" fill="#fff"/>
<polygon class="" points="1335.2,832.6 1344.4,832.6 1344.4,873.3 1335.2,873.3" fill="#fff"/>
<polygon class="" points="1325.0,875.2 1342.6,876.1 1342.6,883.5 1325.0,882.6" fill="#fff"/>
<polygon class="" points="1346.3,849.3 1358.3,847.4 1358.3,858.5 1346.3,858.5" fill="#fff"/>
<polygon class="" points="1277.8,843.7 1287.0,836.3 1288.9,858.5 1281.5,869.6" fill="#fff"/>
<polygon class="" points="1297.2,851.1 1305.6,847.4 1305.6,880.7 1298.5,877.0" fill="#fff"/>
<path class="k3" d="M1305.6,851.1 Q1294.4,869.6 1307.4,886.3" />
<line class="k3" x1="1337.0" y1="833.5" x2="1337.0" y2="873.3" />
<polygon class="kw" points="1108.0,774.3 1185.2,783.7 1170.0,890.9 1102.4,878.5" style="stroke-width:2.8"/>
<polyline class="" points="1108.0,774.3 1185.2,783.7" fill="none" stroke="#000" stroke-width="5" stroke-linejoin="round"/>
<polygon class="kf" points="1108.9,775.2 1140.4,779.8 1138.5,801.1 1107.0,817.8 1103.3,810.4" />
<line class="" x1="1113.5" y1="782.2" x2="1136.7" y2="785.6" stroke="#fff" stroke-width="1.5"/>
<line class="" x1="1113.0" y1="788.5" x2="1134.8" y2="791.9" stroke="#fff" stroke-width="1.5"/>
<line class="" x1="1111.7" y1="795.6" x2="1131.1" y2="798.5" stroke="#fff" stroke-width="1.5"/>
<path class="k3" d="M1154.3,805.5 A9,9 0 0 1 1159.7,822.6"/>
<path class="k3" d="M1153.1,801.7 A13,13 0 0 1 1160.9,826.4"/>
<path class="k3" d="M1151.8,797.4 A17.5,17.5 0 0 1 1162.3,830.7"/>
<polygon class="kf" points="1140.4,801.1 1157.0,795.6 1158.9,821.5 1144.1,823.3" />
<ellipse class="" cx="1151.5" cy="815.9" rx="3.5" ry="3.5"  fill="#fff"/>
<polygon class="k" points="1142.6,833.5 1164.4,836.3 1163.5,846.5 1141.9,843.7" style="stroke-width:3.4"/>
<line class="k" x1="1144.1" y1="839.1" x2="1162.6" y2="841.5" />
<polygon class="kf" points="1162.6,851.1 1173.7,849.3 1172.8,873.3 1161.7,872.4" />
<ellipse class="kf" cx="1161.7" cy="882.6" rx="4.2" ry="4.2" />
<polygon class="kf" points="1185.7,838.1 1216.3,817.8 1218.1,832.6 1211.1,843.7 1216.3,851.1 1207.4,869.6 1192.6,886.3 1185.7,886.3" />
<line class="" x1="1190.4" y1="849.3" x2="1190.4" y2="884.4" stroke="#fff" stroke-width="1.6"/>
<polygon class="" points="1204.3,859.4 1208.9,858.5 1208.0,864.1 1203.7,865.0" fill="#fff"/>
<line class="" x1="1278.8" y1="673.9" x2="1087.9" y2="852.7" stroke="#000" stroke-width="13" stroke-linecap="butt"/>
<line class="" x1="1280.0" y1="675.1" x2="1097.1" y2="845.9" stroke="#fff" stroke-width="2.6"/>
<line class="" x1="1270.8" y1="675.9" x2="1124.9" y2="809.7" stroke="#fff" stroke-width="1.3"/>
<polyline class="k3" points="1272.1,670.9 1285.8,676.4" />
<ellipse class="kw" cx="1088.8" cy="851.2" rx="6.0" ry="6.0" style="stroke-width:3.4"/>
<polygon class="kf" points="1089.4,858.5 1102.4,858.5 1104.3,880.7 1116.3,886.3 1116.3,906.7 1103.3,917.8 1081.1,917.8 1077.4,899.3 1090.4,884.4" />
<polygon class="" points="1092.2,899.3 1097.8,897.4 1097.8,910.4 1093.1,911.3" fill="#fff"/>
<ellipse class="" cx="1083.9" cy="901.1" rx="3.0" ry="5.0"  fill="#fff"/>
<polygon class="kf" points="1089.4,865.1 1102.9,865.1 1105.4,885.3 1116.4,889.0 1116.7,908.0 1105.4,917.2 1123.1,913.5 1133.5,915.9 1128.1,930.7 1125.1,944.2 1113.0,950.9 1108.8,977.8 1107.9,987.9 1097.8,999.7 1081.0,994.7 1087.7,954.3 1081.0,930.7 1074.3,910.5 1081.0,890.3 1089.4,881.9" />
<polygon class="" points="1114.7,922.3 1124.8,918.9 1123.9,940.8 1113.8,944.2" fill="#fff"/>
<line class="k3" x1="1119.7" y1="920.6" x2="1118.9" y2="942.5" />
<line class="" x1="1096.2" y1="900.4" x2="1095.3" y2="910.5" stroke="#fff" stroke-width="1.6"/>
<line class="" x1="1083.5" y1="900.4" x2="1085.2" y2="903.8" stroke="#fff" stroke-width="1.4"/>
<line class="" x1="1099.2" y1="974.5" x2="1099.9" y2="977.8" stroke="#fff" stroke-width="1.6"/>
<path class="" d="M1076.0,878.5 Q1059.1,897.0 1064.2,915.6" fill="none" stroke="#000" stroke-width="5" stroke-linecap="round"/>
<path class="" d="M1055.8,907.1 Q1059.1,924.0 1074.3,926.5" fill="none" stroke="#000" stroke-width="5" stroke-linecap="round"/>
<polyline class="" points="993.5,907.1 1005.3,910.5 1023.8,926.5 1035.6,947.5 1054.1,994.7" fill="none" stroke="#000" stroke-width="4" stroke-linecap="round" stroke-linejoin="round"/>
<polyline class="" points="1023.8,926.5 1047.3,939.1 1067.5,967.7 1081.0,987.9" fill="none" stroke="#000" stroke-width="5" stroke-linecap="round" stroke-linejoin="round"/>
<polyline class="" points="1035.6,934.1 1059.1,987.9" fill="none" stroke="#000" stroke-width="3.4" stroke-linecap="round" stroke-linejoin="round"/>
<polyline class="" points="1054.1,944.2 1074.3,977.8" fill="none" stroke="#000" stroke-width="7" stroke-linecap="round" stroke-linejoin="round"/>
<polyline class="" points="1055.8,994.7 1067.5,996.4" fill="none" stroke="#000" stroke-width="8" stroke-linecap="round" stroke-linejoin="round"/>
<ellipse class="kf" cx="1001.5" cy="899.1" rx="6.5" ry="6.0" />
<polyline class="" points="996.0,902.9 995.2,908.8 1001.9,910.5" fill="none" stroke="#000" stroke-width="4" stroke-linecap="round" stroke-linejoin="round"/>
<polygon class="kw" points="1042.3,912.2 1052.4,911.3 1051.5,922.3 1041.4,922.6" style="stroke-width:3"/>
<polygon class="kf" points="1041.2,935.1 1057.0,937.4 1081.4,960.9 1097.2,983.9 1111.6,1006.9 1097.2,1018.4 1080.0,1001.1 1065.6,983.9" />
<line class="" x1="1054.1" y1="949.4" x2="1077.1" y2="989.7" stroke="#fff" stroke-width="1.6"/>
<line class="" x1="1068.5" y1="960.9" x2="1094.4" y2="1001.1" stroke="#fff" stroke-width="1.4"/>
<polygon class="kf" points="1053.6,992.0 1074.8,993.1 1074.8,1004.6 1053.6,1004.6" />
<polyline class="" points="1074.3,994.7 1097.8,1028.4 1117.2,1046.0" fill="none" stroke="#000" stroke-width="8" stroke-linecap="round" stroke-linejoin="round"/>
<polyline class="" points="1087.7,998.0 1107.9,1021.6 1114.7,1041.8" fill="none" stroke="#000" stroke-width="7" stroke-linecap="round" stroke-linejoin="round"/>
<polyline class="" points="1101.2,999.7 1119.7,1019.9 1141.6,1035.9" fill="none" stroke="#000" stroke-width="7" stroke-linecap="round" stroke-linejoin="round"/>
<polyline class="" points="1104.6,998.0 1119.7,1009.8 1114.7,1013.2" fill="none" stroke="#000" stroke-width="5" stroke-linecap="round" stroke-linejoin="round"/>
<polyline class="" points="1084.4,977.8 1097.8,1011.5" fill="none" stroke="#000" stroke-width="8" stroke-linecap="round" stroke-linejoin="round"/>
<path class="" d="M1131.5,930.7 Q1198.9,924.0 1252.7,885.3" fill="none" stroke="#000" stroke-width="5" stroke-linecap="round"/>
<path class="" d="M1131.5,934.1 Q1165.2,961.0 1197.2,967.7" fill="none" stroke="#000" stroke-width="7" stroke-linecap="round"/>
<path class="" d="M1197.2,967.7 Q1210.6,967.7 1215.7,954.3" fill="none" stroke="#000" stroke-width="5" stroke-linecap="round"/>
<path class="" d="M1145.0,935.8 Q1190.4,939.1 1215.7,950.9" fill="none" stroke="#000" stroke-width="6" stroke-linecap="round"/>
<polyline class="" points="1215.7,950.9 1235.9,961.0 1256.1,962.7 1274.6,956.8" fill="none" stroke="#000" stroke-width="5" stroke-linecap="round" stroke-linejoin="round"/>
<polyline class="" points="1256.1,962.7 1266.2,954.3" fill="none" stroke="#000" stroke-width="5" stroke-linecap="round" stroke-linejoin="round"/>
<polyline class="" points="1242.6,956.8 1257.8,950.9 1266.2,944.2" fill="none" stroke="#000" stroke-width="5" stroke-linecap="round" stroke-linejoin="round"/>
<polyline class="" points="1158.5,939.1 1182.0,954.3" fill="none" stroke="#000" stroke-width="5" stroke-linecap="round" stroke-linejoin="round"/>
<ellipse class="k" cx="1192.5" cy="953.4" rx="3.5" ry="4.0" />
<polyline class="" points="1105.4,878.5 1161.8,888.6" fill="none" stroke="#000" stroke-width="2.4" stroke-linecap="round" stroke-linejoin="round"/>
<polygon class="k" points="1158.8,878.9 1169.9,880.2 1168.9,891.1 1158.1,890.0" />
<ellipse class="kf" cx="1161.8" cy="881.9" rx="3.6" ry="3.6" />
<polygon class="kw" points="1121.7,614.1 1192.4,625.8 1190.4,740.9 1118.4,732.1" style="stroke-width:2.8"/>
<polyline class="k" points="1127.3,618.9 1180.8,630.1 1179.5,738.9" />
<path class="k" d="M1127.3,618.9 Q1120.2,675.8 1128.0,730.1" />
<polyline class="k1" points="1133.8,615.2 1141.7,620.2 1175.8,627.1 1175.8,624.0" />
<polygon class="k" points="1134.7,677.3 1163.1,680.8 1163.1,711.4 1133.5,708.6" style="stroke-width:3.4"/>
<polygon class="k" points="1142.3,682.1 1159.3,684.3 1159.3,707.3 1141.7,705.1" />
<rect class="kf" x="1145.5" y="694.2" width="5" height="6"/>
<rect class="kf" x="1155.8" y="694.9" width="5" height="5"/>
<rect class="kf" x="1168.1" y="682.0" width="9" height="14" rx="2"/>
<rect class="kf" x="1166.8" y="702.8" width="9" height="14" rx="2"/>
<line class="k" x1="1166.9" y1="698.5" x2="1178.3" y2="699.7" />
<ellipse class="kw1" cx="1789.4" cy="347.2" rx="55.0" ry="56.0" transform="rotate(-8 1789.4 347.2)" style="stroke-width:2.3"/>
<rect class="kw1" x="1784.4" y="295.4" width="10" height="7" transform="rotate(0 1789.4 298.9)"/>
<rect class="kw1" x="1747.6" y="373.3" width="10" height="7" transform="rotate(-35 1752.6 376.8)"/>
<rect class="kw1" x="1810.0" y="390.7" width="10" height="7" transform="rotate(-30 1815.0 394.2)"/>
<ellipse class="kw1" cx="1792.0" cy="468.7" rx="54.5" ry="59.0" transform="rotate(-12 1792.0 468.7)" style="stroke-width:2.3"/>
<ellipse class="k1" cx="1790.0" cy="470.0" rx="49.0" ry="54.5" transform="rotate(-14 1790.0 470.0)" />
<ellipse class="k" cx="1784.5" cy="474.5" rx="43.5" ry="48.5" transform="rotate(-18 1784.5 474.5)" style="stroke-width:3.6"/>
<ellipse class="k1" cx="1783.0" cy="476.0" rx="38.5" ry="44.0" transform="rotate(-18 1783.0 476.0)" />
<rect class="kw1" x="1787.6" y="411.5" width="10" height="7"/>
<path class="k1" d="M1816.6,454.0 Q1829.8,480.2 1826.5,509.8" />
<line class="k1" x1="1824.8" y1="511.5" x2="1833.0" y2="517.0" />
<ellipse class="kw1" cx="1793.6" cy="587.0" rx="56.0" ry="57.0" transform="rotate(-8 1793.6 587.0)" style="stroke-width:2.3"/>
<rect class="kw1" x="1789.6" y="532.2" width="8" height="11"/>
<ellipse class="k" cx="1789.5" cy="593.0" rx="29.0" ry="31.0" transform="rotate(-25 1789.5 593.0)" style="stroke-width:2.8"/>
<ellipse class="k1" cx="1791.5" cy="591.5" rx="24.0" ry="27.0" transform="rotate(-25 1791.5 591.5)" />
<ellipse class="k" cx="1789.0" cy="594.0" rx="19.0" ry="22.0" transform="rotate(-25 1789.0 594.0)" style="stroke-width:2.8"/>
<path class="k1" d="M1804.5,570.6 Q1819.9,585.4 1810.1,611.7" />
<path class="k1" d="M1756.5,618.9 Q1788.7,642.9 1826.5,631.4 L1824.2,627.4 Q1788.7,630.9 1759.8,614.9 Z" />
<path class="kw" d="M1629.2,924.0 Q1629.2,924.0 1629.2,924.0 L1629.2,725.5 Q1629.2,725.5 1629.2,725.5 L1757.9,745.1 Q1766.8,746.5 1766.8,755.5 L1766.8,909.5 Q1766.8,918.5 1757.8,918.5 L1730.0,918.5 Q1730.0,918.5 1730.0,918.5 " style="stroke-width:2.8"/>
<circle class="kf" cx="1638.9" cy="817.9" r="4.6"/>
<ellipse class="kw" cx="1717.3" cy="861.5" rx="38.0" ry="38.5" />
<path class="kw" d="M1647.8,844.6 Q1650.1,830.8 1663.9,832.6 L1727.0,841.1 Q1740.9,842.9 1740.9,856.9 L1740.9,918.8 Q1740.9,928.8 1733.1,935.0 L1723.0,943.1 Q1723.0,943.1 1723.0,943.1 L1642.9,874.4 Q1642.9,874.4 1642.9,874.4 Z" style="stroke-width:3.6"/>
<polygon class="kf" points="1650.1,834.3 1660.1,830.8 1680.1,833.6 1700.1,837.2 1725.9,840.8 1739.5,847.2 1737.3,860.1 1724.5,857.2" />
<polygon class="" points="1667.2,839.3 1680.1,840.8 1685.8,844.3 1668.7,842.9" fill="#fff"/>
<polygon class="kw" points="1728.8,862.9 1738.1,864.4 1738.1,925.9 1728.8,928.8" />
<polygon class="kf" points="1729.5,918.7 1738.1,917.3 1737.6,931.6 1729.5,933.8" />
<path class="kw" d="M1625.4,856.3 Q1625.5,842.3 1639.3,844.7 L1711.5,857.1 Q1725.3,859.5 1725.5,873.5 L1726.3,941.9 Q1726.5,955.9 1712.7,953.6 L1641.0,941.7 Q1625.2,939.1 1625.2,923.1 Z" style="stroke-width:4.4"/>
<path class="k1" d="M1630.7,859.4 Q1630.8,849.4 1640.6,851.0 L1710.3,862.7 Q1720.2,864.4 1720.3,874.4 L1720.9,938.8 Q1721.0,948.8 1711.2,947.2 L1642.2,935.7 Q1630.3,933.8 1630.4,921.8 Z" />
<circle class="kf" cx="1636.9" cy="857.5" r="3.6"/>
<circle class="kf" cx="1712.3" cy="869.4" r="3.6"/>
<circle class="kf" cx="1710.9" cy="944.5" r="3.6"/>
<circle class="kf" cx="1635.5" cy="933.0" r="3.6"/>
<path class="k" d="M1639.0,878.4 Q1638.9,868.4 1648.8,870.1 L1693.4,877.8 Q1703.3,879.5 1703.3,889.5 L1703.5,927.6 Q1703.6,937.6 1693.7,935.9 L1649.3,928.2 Q1639.5,926.5 1639.4,916.5 Z" style="stroke-width:3.4"/>
<path class="k1" d="M1643.0,882.4 Q1642.9,874.4 1650.8,875.8 L1691.6,883.0 Q1699.4,884.4 1699.5,892.4 L1699.7,924.3 Q1699.7,932.3 1691.8,930.9 L1651.2,923.7 Q1643.3,922.3 1643.3,914.3 Z" />
<line class="" x1="1658.7" y1="860.1" x2="1691.6" y2="865.1" stroke="#000" stroke-width="5"/>
<circle cx="1668.7" cy="906.6" r="23" class="k" style="stroke-width:5"/>
<circle cx="1668.7" cy="906.6" r="15.5" class="k" style="stroke-width:3"/>
<line class="" x1="1653.7" y1="902.6" x2="1683.7" y2="909.6" stroke="#000" stroke-width="3.4"/>
<line class="k" x1="1663.7" y1="892.6" x2="1664.7" y2="898.6" />
<line class="k" x1="1670.7" y1="891.6" x2="1670.7" y2="897.6" />
<circle class="kf" cx="1648.6" cy="877.3" r="4"/>
<circle class="kf" cx="1694.4" cy="884.4" r="4"/>
<circle class="kf" cx="1693.0" cy="925.9" r="4"/>
<circle class="kf" cx="1706.6" cy="906.6" r="4"/>
</g>
<g id="annot">
<polyline class="b" points="780.8,211.5 942.4,294.8"/>
<polygon points="942.4,294.8 921.8,289.0 925.7,281.4" fill="#0000ff"/>
<polyline class="b" points="1287.5,159.5 1173.6,349.7"/>
<polygon points="1173.6,349.7 1180.7,329.5 1188.0,333.9" fill="#0000ff"/>
<polyline class="b" points="778.3,419.6 1135.8,656.7"/>
<polygon points="1135.8,656.7 1116.0,648.6 1120.6,641.6" fill="#0000ff"/>
<polyline class="b" points="554.5,494.3 706.0,577.6"/>
<polygon points="706.0,577.6 685.6,571.2 689.6,563.8" fill="#0000ff"/>
<polyline class="b" points="562.0,612.5 701.5,653.3"/>
<polygon points="701.5,653.3 680.2,651.5 682.5,643.3" fill="#0000ff"/>
<polyline class="b" points="1549.5,163.7 1538.8,360.6"/>
<polygon points="1538.8,360.6 1535.7,339.4 1544.2,339.9" fill="#0000ff"/>
<polyline class="b" points="2016.2,145.0 1705.5,230.0"/>
<polygon points="1705.5,230.0 1724.6,220.4 1726.9,228.6" fill="#0000ff"/>
<polyline class="b" points="2017.5,252.9 1820.9,335.8"/>
<polygon points="1820.9,335.8 1838.6,323.7 1841.9,331.6" fill="#0000ff"/>
<polyline class="b" points="2018.0,358.0 1825.5,450.3"/>
<polygon points="1825.5,450.3 1842.6,437.4 1846.3,445.1" fill="#0000ff"/>
<polyline class="b" points="2016.5,458.5 1637.3,579.4"/>
<polygon points="1637.3,579.4 1656.0,569.0 1658.6,577.1" fill="#0000ff"/>
<polyline class="b" points="2015.3,554.5 1820.3,575.2"/>
<polygon points="1820.3,575.2 1840.7,568.8 1841.6,577.2" fill="#0000ff"/>
<polyline class="b" points="2015.2,656.5 1580.0,672.7"/>
<polygon points="1580.0,672.7 1600.8,667.7 1601.1,676.2" fill="#0000ff"/>
<polyline class="b" points="1863.3,680.6 1546.4,730.0"/>
<polygon points="1546.4,730.0 1566.5,722.6 1567.8,731.0" fill="#0000ff"/>
<polyline class="b" points="2015.0,761.2 1754.5,786.0"/>
<polygon points="1754.5,786.0 1775.0,779.8 1775.8,788.2" fill="#0000ff"/>
<polyline class="b" points="2015.0,864.2 1731.8,875.5"/>
<polygon points="1731.8,875.5 1752.6,870.4 1753.0,878.9" fill="#0000ff"/>
<polyline class="b" points="2015.5,963.3 1716.7,936.0"/>
<polygon points="1716.7,936.0 1738.0,933.7 1737.2,942.1" fill="#0000ff"/>
<polyline class="b" points="1692.0,976.0 1490.9,710.9"/>
<polygon points="1490.9,710.9 1507.0,725.1 1500.2,730.2" fill="#0000ff"/>
<polyline class="b" points="1547.6,933.3 1429.0,637.0"/>
<polygon points="1429.0,637.0 1440.7,654.9 1432.9,658.1" fill="#0000ff"/>
<polyline class="b" points="1592.4,1076.4 1567.3,1076.4 1401.8,700.9"/>
<polygon points="1401.8,700.9 1414.2,718.4 1406.4,721.8" fill="#0000ff"/>
<polyline class="b" points="1477.9,940.9 1430.0,768.0"/>
<polygon points="1430.0,768.0 1439.7,787.1 1431.5,789.4" fill="#0000ff"/>
<polyline class="b" points="1409.7,940.9 1386.4,798.2"/>
<polygon points="1386.4,798.2 1394.0,818.2 1385.6,819.6" fill="#0000ff"/>
<polyline class="b" points="1368.8,956.0 1368.8,816.7"/>
<polygon points="1368.8,816.7 1373.0,837.7 1364.5,837.7" fill="#0000ff"/>
<polyline class="b" points="1279.4,1013.6 1318.8,860.6"/>
<polygon points="1318.8,860.6 1317.7,882.0 1309.4,879.9" fill="#0000ff"/>
<polyline class="b" points="1189.0,1047.0 1261.0,803.0"/>
<polygon points="1261.0,803.0 1259.1,824.3 1251.0,821.9" fill="#0000ff"/>
<polyline class="b" points="1044.5,1027.0 1191.5,853.0"/>
<polygon points="1191.5,853.0 1181.2,871.8 1174.7,866.3" fill="#0000ff"/>
<polyline class="b" points="788.4,960.7 1046.0,921.2"/>
<polygon points="1046.0,921.2 1025.9,928.6 1024.6,920.2" fill="#0000ff"/>
<polyline class="b" points="788.4,885.0 1118.0,859.5"/>
<polygon points="1118.0,859.5 1097.4,865.4 1096.7,856.9" fill="#0000ff"/>
<polyline class="b" points="672.2,849.6 1228.2,771.5"/>
<polygon points="1228.2,771.5 1208.0,778.6 1206.8,770.2" fill="#0000ff"/>
<circle class="b" cx="749.5" cy="194.8" r="33.1"/>
<text class="t" x="748.6" y="200.8">4745</text>
<circle class="b" cx="1303.5" cy="130.7" r="33.1"/>
<text class="t" x="1302.6" y="136.7">4579</text>
<circle class="b" cx="749.5" cy="402" r="33.1"/>
<text class="t" x="748.6" y="408.0">4610</text>
<circle class="b" cx="525.8" cy="477.2" r="33.1"/>
<text class="t" x="524.9" y="483.2">4872</text>
<circle class="b" cx="526.5" cy="602.8" r="37.5"/>
<text class="t" x="525.6" y="596.8">4727</text>
<text class="t" x="525.6" y="619.2">4728</text>
<circle class="b" cx="1551.5" cy="130.7" r="33.1"/>
<text class="t" x="1550.6" y="136.7">4573</text>
<circle class="b" cx="2047.6" cy="135.9" r="33.1"/>
<text class="t" x="2046.7" y="141.9">4565</text>
<circle class="b" cx="2047.6" cy="239.7" r="33.1"/>
<text class="t" x="2046.7" y="245.7">4577</text>
<circle class="b" cx="2047.6" cy="343.3" r="33.1"/>
<text class="t" x="2046.7" y="349.3">4576</text>
<circle class="b" cx="2047.6" cy="448.2" r="33.1"/>
<text class="t" x="2046.7" y="454.2">4868</text>
<circle class="b" cx="2047.6" cy="551.5" r="33.1"/>
<text class="t" x="2046.7" y="557.5">4575</text>
<circle class="b" cx="2047.6" cy="655.4" r="33.1"/>
<text class="t" x="2046.7" y="661.4">4560</text>
<circle class="b" cx="2047.6" cy="759.7" r="33.1"/>
<text class="t" x="2046.7" y="765.7">4681</text>
<circle class="b" cx="2047.6" cy="863.3" r="33.1"/>
<text class="t" x="2046.7" y="869.3">4689</text>
<circle class="b" cx="2047.6" cy="966.4" r="33.1"/>
<text class="t" x="2046.7" y="972.4">4705</text>
<circle class="b" cx="1709" cy="997.5" r="27"/>
<text class="t" x="1708.1" y="1003.5">4643</text>
<circle class="b" cx="1412.5" cy="973.3" r="33.1"/>
<text class="t" x="1411.6" y="979.3">4584</text>
<circle class="b" cx="1485.5" cy="973.3" r="33.1"/>
<text class="t" x="1484.6" y="979.3">4581</text>
<circle class="b" cx="635.6" cy="856.4" r="38"/>
<text class="t" x="634.7" y="850.4">4503</text>
<text class="t" x="634.7" y="872.8">4504</text>
<circle class="b" cx="754.5" cy="887" r="33.1"/>
<text class="t" x="753.6" y="893.0">4533</text>
<circle class="b" cx="754.5" cy="965.8" r="33.1"/>
<text class="t" x="753.6" y="971.8">4867</text>
<circle class="b" cx="1027.9" cy="1048.5" r="27"/>
<text class="t" x="1027.0" y="1054.5">4877</text>
<circle class="b" cx="1178.5" cy="1079.4" r="33.1"/>
<text class="t" x="1177.6" y="1085.4">4514</text>
<circle class="b" cx="1270.9" cy="1045.5" r="33.1"/>
<text class="t" x="1270.0" y="1051.5">4516</text>
<rect class="b" x="1863.0" y="672.4" width="58.9" height="87.8"/>
<text class="t" x="1891.5" y="686.4">4859</text>
<text class="t" x="1891.5" y="708.8">4860</text>
<text class="t" x="1891.5" y="731.2">4861</text>
<text class="t" x="1891.5" y="753.6">4862</text>
<rect class="b" x="1309.1" y="956.6" width="60.6" height="65.4"/>
<text class="t" x="1338.5" y="972.0">4590</text>
<text class="t" x="1338.5" y="993.5">4598</text>
<text class="t" x="1338.5" y="1015.0">4599</text>
<rect class="b" x="1547.6" y="933.3" width="61.4" height="66.1"/>
<text class="t" x="1577.4" y="949.4">4550</text>
<text class="t" x="1577.4" y="970.9">4551</text>
<text class="t" x="1577.4" y="992.4">4552</text>
<rect class="b" x="1592.4" y="1064.5" width="63.4" height="54.3"/>
<text class="t" x="1623.2" y="1085.4">4788</text>
<text class="t" x="1623.2" y="1111.2">4787</text>
<text class="t" x="1941.5" y="1055.3" style="letter-spacing:1.62px">DFSDH-SPI</text>
<text class="t" x="1941.6" y="1080.9" style="letter-spacing:1.62px;word-spacing:2.6px">REV. 11/25</text>
</g></svg></body></html>
